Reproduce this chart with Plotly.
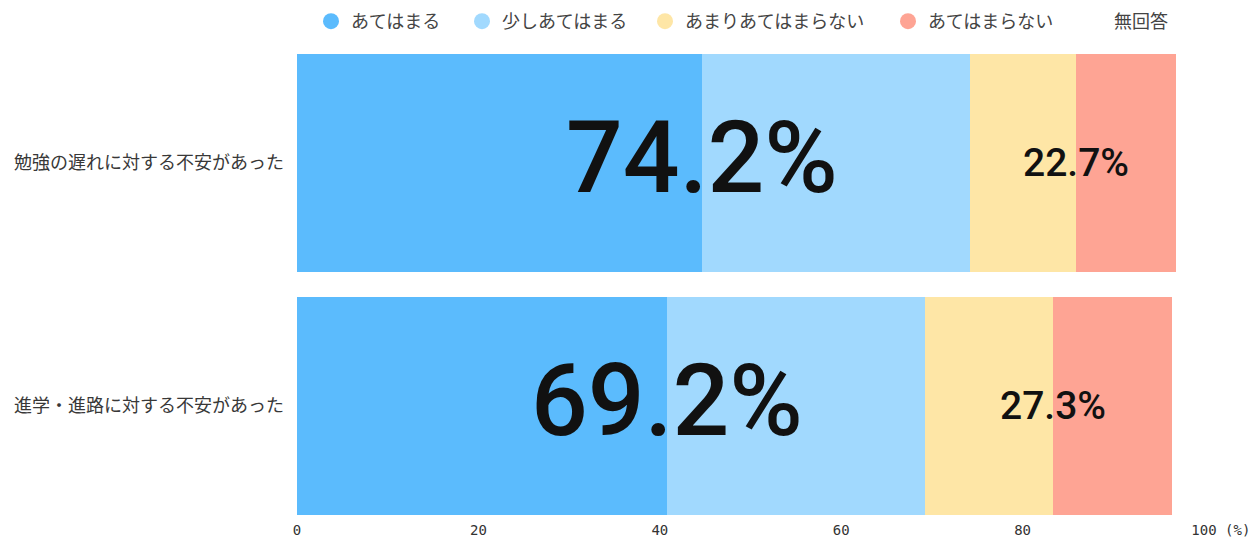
import plotly.graph_objects as go

categories = ["勉強の遅れに対する不安があった", "進学・進路に対する不安があった"]
series_names = ["あてはまる", "少しあてはまる", "あまりあてはまらない", "あてはまらない", "無回答"]
v_atehamaru = [44.7, 40.8]
v_sukoshi = [29.5, 28.4]
v_amari = [11.7, 14.2]
v_atehamaranai = [11.0, 13.1]
v_mukaitou = [3.1, 3.5]
colors = ["#5BBBFD", "#A1D9FE", "#FEE6A6", "#FEA494", "#FFFFFF"]
tick_vals = [0, 20, 40, 60, 80, 100]
tick_text = ["0", "20", "40", "60", "80", "\u00a0\u00a0\u00a0\u00a0100\u00a0(%)"]
legend_marker_x = [333, 484, 667, 910, 1096]  # legend entry placement (px)

series = [v_atehamaru, v_sukoshi, v_amari, v_atehamaranai, v_mukaitou]
legend_ids = ["legend", "legend2", "legend3", "legend4", "legend5"]

fig = go.Figure()
for name, vals, col in zip(series_names, series, colors):
    fig.add_trace(go.Bar(
        y=categories, x=vals, name=name, orientation="h",
        marker=dict(color=col, line=dict(width=0)),
        showlegend=False, legendgroup=name,
    ))
# legend entries with circular markers, one legend per entry
for name, col, lid in zip(series_names, colors, legend_ids):
    fig.add_trace(go.Scatter(
        x=[None], y=[None], mode="markers", name=name, legendgroup=name,
        marker=dict(symbol="circle", size=16, color=col, line=dict(width=0)),
        showlegend=True, legend=lid,
    ))

# percentage annotations
for i, cat in enumerate(categories):
    pos_total = v_atehamaru[i] + v_sukoshi[i]
    neg_total = v_amari[i] + v_atehamaranai[i]
    fig.add_annotation(x=v_atehamaru[i], y=cat, text=f"{pos_total:.1f}%",
                       showarrow=False, xanchor="center", yanchor="middle",
                       yshift=6,
                       font=dict(family="Roboto", size=100, color="#111111", weight=500))
    fig.add_annotation(x=v_atehamaru[i] + v_sukoshi[i] + v_amari[i], y=cat,
                       text=f"{neg_total:.1f}%",
                       showarrow=False, xanchor="center", yanchor="middle",
                       font=dict(family="Roboto", size=39, color="#111111", weight=500))

legend_style = dict(orientation="h", xref="container", yref="container",
                    xanchor="left", y=1 - 3 / 540, yanchor="top",
                    font=dict(family="Noto Sans CJK JP", size=18, color="#444444"),
                    itemsizing="trace", itemwidth=30, bgcolor="rgba(0,0,0,0)")
legends = {}
for lid, mx in zip(legend_ids, legend_marker_x):
    legends[lid] = dict(legend_style, x=(mx - 22) / 1260)

fig.update_layout(
    width=1260, height=540,
    barmode="stack", bargap=0.103,
    paper_bgcolor="white", plot_bgcolor="white",
    margin=dict(l=297, r=55.5, t=45, b=20, autoexpand=False),
    showlegend=True,
    xaxis=dict(range=[0, 100], tickvals=tick_vals, ticktext=tick_text,
               showgrid=False, zeroline=False, showline=False, ticks="",
               automargin=False,
               tickfont=dict(family="DejaVu Sans Mono", size=14, color="#333333"),
               fixedrange=True),
    yaxis=dict(categoryorder="array", categoryarray=categories,
               range=[1.469, -0.486], showgrid=False, zeroline=False,
               showline=False, ticks="", ticklabelstandoff=12, automargin=False,
               tickfont=dict(family="Noto Sans CJK JP", size=18, color="#383838")),
    **legends,
)

fig.write_html("out.html")
